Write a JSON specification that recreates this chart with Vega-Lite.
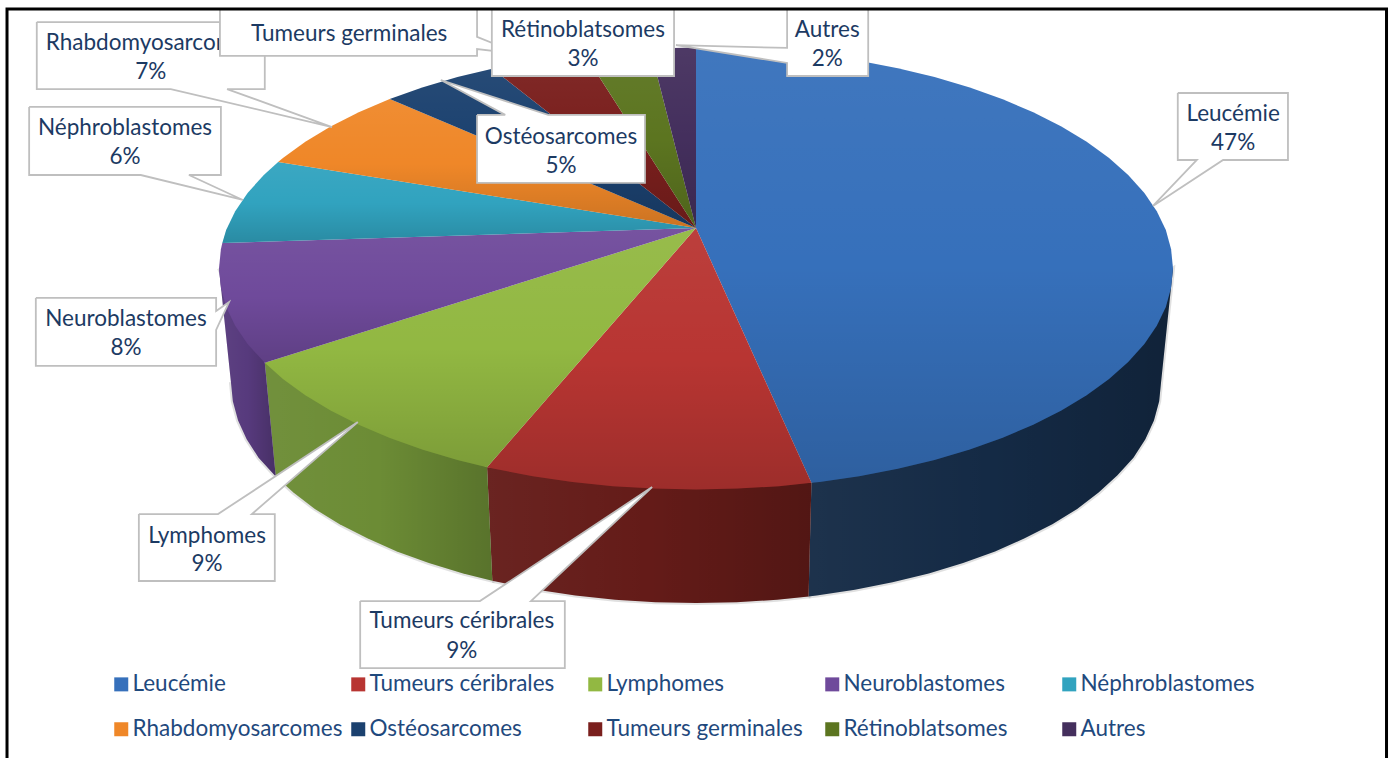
{
"$schema":"https://vega.github.io/schema/vega-lite/v6.json",
"width":1391,"height":758,"padding":0,"autosize":{"type":"fit","contains":"padding"},
"background":"white",
"config":{"view":{"stroke":null}},
"datasets":{
"top":[
{"s":"Leucémie","x":0,"y":100},{"s":"Leucémie","x":8.7,"y":99.6},{"s":"Leucémie","x":17.4,"y":98.5},{"s":"Leucémie","x":25.9,"y":96.6},{"s":"Leucémie","x":34.2,"y":94},{"s":"Leucémie","x":42.3,"y":90.6},{"s":"Leucémie","x":50,"y":86.6},{"s":"Leucémie","x":57.4,"y":81.9},{"s":"Leucémie","x":64.3,"y":76.6},{"s":"Leucémie","x":70.7,"y":70.7},{"s":"Leucémie","x":76.6,"y":64.3},{"s":"Leucémie","x":81.9,"y":57.4},{"s":"Leucémie","x":86.6,"y":50},{"s":"Leucémie","x":90.6,"y":42.3},{"s":"Leucémie","x":94,"y":34.2},{"s":"Leucémie","x":96.6,"y":25.9},{"s":"Leucémie","x":98.5,"y":17.4},{"s":"Leucémie","x":99.6,"y":8.7},{"s":"Leucémie","x":100,"y":0},{"s":"Leucémie","x":99.6,"y":-8.7},{"s":"Leucémie","x":98.5,"y":-17.4},{"s":"Leucémie","x":96.6,"y":-25.9},{"s":"Leucémie","x":94,"y":-34.2},{"s":"Leucémie","x":90.6,"y":-42.3},{"s":"Leucémie","x":86.6,"y":-50},{"s":"Leucémie","x":81.9,"y":-57.4},{"s":"Leucémie","x":76.6,"y":-64.3},{"s":"Leucémie","x":70.7,"y":-70.7},{"s":"Leucémie","x":64.3,"y":-76.6},{"s":"Leucémie","x":57.4,"y":-81.9},{"s":"Leucémie","x":50,"y":-86.6},{"s":"Leucémie","x":42.3,"y":-90.6},{"s":"Leucémie","x":34.2,"y":-94},{"s":"Leucémie","x":25.9,"y":-96.6},{"s":"Leucémie","x":24.2,"y":-97},{"s":"Leucémie","x":0,"y":18.3},
{"s":"Tumeurs céribrales","x":24.2,"y":-97},{"s":"Tumeurs céribrales","x":17.4,"y":-98.5},{"s":"Tumeurs céribrales","x":8.7,"y":-99.6},{"s":"Tumeurs céribrales","x":0,"y":-100},{"s":"Tumeurs céribrales","x":-8.7,"y":-99.6},{"s":"Tumeurs céribrales","x":-17.4,"y":-98.5},{"s":"Tumeurs céribrales","x":-25.9,"y":-96.6},{"s":"Tumeurs céribrales","x":-34.2,"y":-94},{"s":"Tumeurs céribrales","x":-42.3,"y":-90.6},{"s":"Tumeurs céribrales","x":-43.8,"y":-89.9},{"s":"Tumeurs céribrales","x":0,"y":18.3},
{"s":"Lymphomes","x":-43.8,"y":-89.9},{"s":"Lymphomes","x":-50,"y":-86.6},{"s":"Lymphomes","x":-57.4,"y":-81.9},{"s":"Lymphomes","x":-64.3,"y":-76.6},{"s":"Lymphomes","x":-70.7,"y":-70.7},{"s":"Lymphomes","x":-76.6,"y":-64.3},{"s":"Lymphomes","x":-81.9,"y":-57.4},{"s":"Lymphomes","x":-86.6,"y":-50},{"s":"Lymphomes","x":-90.4,"y":-42.7},{"s":"Lymphomes","x":0,"y":18.3},
{"s":"Neuroblastomes","x":-90.4,"y":-42.7},{"s":"Neuroblastomes","x":-94,"y":-34.2},{"s":"Neuroblastomes","x":-96.6,"y":-25.9},{"s":"Neuroblastomes","x":-98.5,"y":-17.4},{"s":"Neuroblastomes","x":-99.6,"y":-8.7},{"s":"Neuroblastomes","x":-100,"y":0},{"s":"Neuroblastomes","x":-99.6,"y":8.7},{"s":"Neuroblastomes","x":-99.3,"y":11.5},{"s":"Neuroblastomes","x":0,"y":18.3},
{"s":"Néphroblastomes","x":-99.3,"y":11.5},{"s":"Néphroblastomes","x":-98.5,"y":17.4},{"s":"Néphroblastomes","x":-96.6,"y":25.9},{"s":"Néphroblastomes","x":-94,"y":34.2},{"s":"Néphroblastomes","x":-90.6,"y":42.3},{"s":"Néphroblastomes","x":-87.6,"y":48.2},{"s":"Néphroblastomes","x":0,"y":18.3},
{"s":"Rhabdomyosarcomes","x":-87.6,"y":48.2},{"s":"Rhabdomyosarcomes","x":-86.6,"y":50},{"s":"Rhabdomyosarcomes","x":-81.9,"y":57.4},{"s":"Rhabdomyosarcomes","x":-76.6,"y":64.3},{"s":"Rhabdomyosarcomes","x":-70.7,"y":70.7},{"s":"Rhabdomyosarcomes","x":-64.2,"y":76.7},{"s":"Rhabdomyosarcomes","x":0,"y":18.3},
{"s":"Ostéosarcomes","x":-64.2,"y":76.7},{"s":"Ostéosarcomes","x":-57.4,"y":81.9},{"s":"Ostéosarcomes","x":-50,"y":86.6},{"s":"Ostéosarcomes","x":-42.7,"y":90.4},{"s":"Ostéosarcomes","x":0,"y":18.3},
{"s":"Tumeurs germinales","x":-42.7,"y":90.4},{"s":"Tumeurs germinales","x":-34.2,"y":94},{"s":"Tumeurs germinales","x":-25.9,"y":96.6},{"s":"Tumeurs germinales","x":-23.4,"y":97.2},{"s":"Tumeurs germinales","x":0,"y":18.3},
{"s":"Rétinoblatsomes","x":-23.4,"y":97.2},{"s":"Rétinoblatsomes","x":-17.4,"y":98.5},{"s":"Rétinoblatsomes","x":-9.6,"y":99.5},{"s":"Rétinoblatsomes","x":0,"y":18.3},
{"s":"Autres","x":-9.6,"y":99.5},{"s":"Autres","x":0,"y":100},{"s":"Autres","x":0,"y":18.3}
],
"side":[
{"s":"Leucémie","x":24.2,"y":-97},{"s":"Leucémie","x":100,"y":0},{"s":"Leucémie","x":97.5,"y":-51.4},{"s":"Leucémie","x":97.1,"y":-60.1},{"s":"Leucémie","x":96,"y":-68.8},{"s":"Leucémie","x":94.2,"y":-77.3},{"s":"Leucémie","x":91.7,"y":-85.6},{"s":"Leucémie","x":88.3,"y":-93.7},{"s":"Leucémie","x":84.4,"y":-101.4},{"s":"Leucémie","x":79.9,"y":-108.8},{"s":"Leucémie","x":74.7,"y":-115.7},{"s":"Leucémie","x":68.9,"y":-122.1},{"s":"Leucémie","x":62.7,"y":-128},{"s":"Leucémie","x":56,"y":-133.3},{"s":"Leucémie","x":48.8,"y":-138},{"s":"Leucémie","x":41.2,"y":-142},{"s":"Leucémie","x":33.3,"y":-145.4},{"s":"Leucémie","x":25.3,"y":-148},{"s":"Leucémie","x":23.6,"y":-148.4},
{"s":"Tumeurs céribrales","x":-43.8,"y":-89.9},{"s":"Tumeurs céribrales","x":24.2,"y":-97},{"s":"Tumeurs céribrales","x":23.6,"y":-148.4},{"s":"Tumeurs céribrales","x":17,"y":-149.9},{"s":"Tumeurs céribrales","x":8.5,"y":-151},{"s":"Tumeurs céribrales","x":0,"y":-151.4},{"s":"Tumeurs céribrales","x":-8.5,"y":-151},{"s":"Tumeurs céribrales","x":-17,"y":-149.9},{"s":"Tumeurs céribrales","x":-25.3,"y":-148},{"s":"Tumeurs céribrales","x":-33.3,"y":-145.4},{"s":"Tumeurs céribrales","x":-41.2,"y":-142},{"s":"Tumeurs céribrales","x":-42.7,"y":-141.3},
{"s":"Lymphomes","x":-90.4,"y":-42.7},{"s":"Lymphomes","x":-43.8,"y":-89.9},{"s":"Lymphomes","x":-42.7,"y":-141.3},{"s":"Lymphomes","x":-48.8,"y":-138},{"s":"Lymphomes","x":-56,"y":-133.3},{"s":"Lymphomes","x":-62.7,"y":-128},{"s":"Lymphomes","x":-68.9,"y":-122.1},{"s":"Lymphomes","x":-74.7,"y":-115.7},{"s":"Lymphomes","x":-79.9,"y":-108.8},{"s":"Lymphomes","x":-84.4,"y":-101.4},{"s":"Lymphomes","x":-88.1,"y":-94.1},
{"s":"Neuroblastomes","x":-100,"y":0},{"s":"Neuroblastomes","x":-90.4,"y":-42.7},{"s":"Neuroblastomes","x":-88.1,"y":-94.1},{"s":"Neuroblastomes","x":-91.7,"y":-85.6},{"s":"Neuroblastomes","x":-94.2,"y":-77.3},{"s":"Neuroblastomes","x":-96,"y":-68.8},{"s":"Neuroblastomes","x":-97.1,"y":-60.1},{"s":"Neuroblastomes","x":-97.5,"y":-51.4}
],
"callouts":[
{"c":"Rhabdomyosarcomes","x":-138.2,"y":111.5},{"c":"Rhabdomyosarcomes","x":-90.4,"y":111.5},{"c":"Rhabdomyosarcomes","x":-90.4,"y":81.2},{"c":"Rhabdomyosarcomes","x":-98.3,"y":81.2},{"c":"Rhabdomyosarcomes","x":-76.3,"y":64},{"c":"Rhabdomyosarcomes","x":-110.1,"y":81.2},{"c":"Rhabdomyosarcomes","x":-138.2,"y":81.2},{"c":"Rhabdomyosarcomes","x":-138.2,"y":111.5},
{"c":"Néphroblastomes","x":-139.8,"y":73.1},{"c":"Néphroblastomes","x":-99.6,"y":73.1},{"c":"Néphroblastomes","x":-99.6,"y":42.3},{"c":"Néphroblastomes","x":-106.3,"y":42.3},{"c":"Néphroblastomes","x":-95,"y":31},{"c":"Néphroblastomes","x":-116.4,"y":42.3},{"c":"Néphroblastomes","x":-139.8,"y":42.3},{"c":"Néphroblastomes","x":-139.8,"y":73.1},
{"c":"Neuroblastomes","x":-138.4,"y":-13.3},{"c":"Neuroblastomes","x":-100.6,"y":-13.3},{"c":"Neuroblastomes","x":-100.6,"y":-19.2},{"c":"Neuroblastomes","x":-97.9,"y":-15.2},{"c":"Neuroblastomes","x":-100.6,"y":-27.8},{"c":"Neuroblastomes","x":-100.6,"y":-44.1},{"c":"Neuroblastomes","x":-138.4,"y":-44.1},{"c":"Neuroblastomes","x":-138.4,"y":-13.3},
{"c":"Lymphomes","x":-116.8,"y":-111.1},{"c":"Lymphomes","x":-100.2,"y":-111.1},{"c":"Lymphomes","x":-70.9,"y":-69.5},{"c":"Lymphomes","x":-93.1,"y":-111.1},{"c":"Lymphomes","x":-88.3,"y":-111.1},{"c":"Lymphomes","x":-88.3,"y":-141.4},{"c":"Lymphomes","x":-116.8,"y":-141.4},{"c":"Lymphomes","x":-116.8,"y":-111.1},
{"c":"Tumeurs céribrales","x":-70.4,"y":-150.5},{"c":"Tumeurs céribrales","x":-45.3,"y":-150.5},{"c":"Tumeurs céribrales","x":-9.2,"y":-98.9},{"c":"Tumeurs céribrales","x":-34.6,"y":-150.5},{"c":"Tumeurs céribrales","x":-27.5,"y":-150.5},{"c":"Tumeurs céribrales","x":-27.5,"y":-180.8},{"c":"Tumeurs céribrales","x":-70.4,"y":-180.8},{"c":"Tumeurs céribrales","x":-70.4,"y":-150.5},
{"c":"Leucémie","x":101,"y":79.4},{"c":"Leucémie","x":124.1,"y":79.4},{"c":"Leucémie","x":124.1,"y":49.1},{"c":"Leucémie","x":110.5,"y":49.1},{"c":"Leucémie","x":95.8,"y":28.3},{"c":"Leucémie","x":105,"y":49.1},{"c":"Leucémie","x":101,"y":49.1},{"c":"Leucémie","x":101,"y":79.4},
{"c":"Ostéosarcomes","x":-45.9,"y":69.5},{"c":"Ostéosarcomes","x":-40,"y":69.5},{"c":"Ostéosarcomes","x":-53.5,"y":85.3},{"c":"Ostéosarcomes","x":-31,"y":69.5},{"c":"Ostéosarcomes","x":-10.7,"y":69.5},{"c":"Ostéosarcomes","x":-10.7,"y":38.7},{"c":"Ostéosarcomes","x":-45.9,"y":38.7},{"c":"Ostéosarcomes","x":-45.9,"y":69.5},
{"c":"Tumeurs germinales","x":-99.8,"y":117.4},{"c":"Tumeurs germinales","x":-45.9,"y":117.4},{"c":"Tumeurs germinales","x":-45.9,"y":104.8},{"c":"Tumeurs germinales","x":-36.9,"y":97},{"c":"Tumeurs germinales","x":-45.9,"y":99.3},{"c":"Tumeurs germinales","x":-45.9,"y":96.2},{"c":"Tumeurs germinales","x":-99.8,"y":96.2},{"c":"Tumeurs germinales","x":-99.8,"y":117.4},
{"c":"Rétinoblatsomes","x":-42.8,"y":117.4},{"c":"Rétinoblatsomes","x":-4.6,"y":117.4},{"c":"Rétinoblatsomes","x":-4.6,"y":87.1},{"c":"Rétinoblatsomes","x":-42.8,"y":87.1},{"c":"Rétinoblatsomes","x":-42.8,"y":117.4},
{"c":"Autres","x":19.1,"y":117.4},{"c":"Autres","x":36.1,"y":117.4},{"c":"Autres","x":36.1,"y":87.1},{"c":"Autres","x":19.1,"y":87.1},{"c":"Autres","x":19.1,"y":93},{"c":"Autres","x":-4.2,"y":101.1},{"c":"Autres","x":19.1,"y":99.8},{"c":"Autres","x":19.1,"y":117.4}
],
"labels":[
{"t":"Rhabdomyosarcomes","x":-114.3,"y":102.5},{"t":"7%","x":-114.3,"y":89.4},
{"t":"Leucémie","x":112.6,"y":70.4},{"t":"47%","x":112.6,"y":57.2},
{"t":"Tumeurs céribrales","x":-49.1,"y":-159},{"t":"9%","x":-49.1,"y":-172.6},
{"t":"Lymphomes","x":-102.5,"y":-120.6},{"t":"9%","x":-102.5,"y":-133.3},
{"t":"Neuroblastomes","x":-119.5,"y":-22.4},{"t":"8%","x":-119.5,"y":-35.5},
{"t":"Néphroblastomes","x":-119.7,"y":64},{"t":"6%","x":-119.7,"y":50.9},
{"t":"Ostéosarcomes","x":-28.3,"y":60},{"t":"5%","x":-28.3,"y":46.8},
{"t":"Tumeurs germinales","x":-72.7,"y":106.6},
{"t":"Rétinoblatsomes","x":-23.7,"y":108.4},{"t":"3%","x":-23.7,"y":95.2},
{"t":"Autres","x":27.5,"y":108.4},{"t":"2%","x":27.5,"y":95.2}
]
},
"encoding":{
"x":{"field":"x","type":"quantitative","axis":null,"scale":{"domain":[-145.91,145.7],"nice":false,"zero":false}},
"y":{"field":"y","type":"quantitative","axis":null,"scale":{"domain":[-221.49,121.49],"nice":false,"zero":false}}
},
"layer":[
{"data":{"name":"side"},
 "mark":{"type":"line","clip":true,"fill":"#888888","stroke":"#777777","strokeWidth":4,"opacity":0.22},
 "encoding":{"order":{"value":null},"detail":{"field":"s"}}},
{"data":{"name":"side"},
 "mark":{"type":"line","clip":true,"strokeWidth":0},
 "encoding":{"order":{"value":null},"fill":{"field":"s","type":"nominal","legend":null,"scale":{"domain":["Leucémie","Tumeurs céribrales","Lymphomes","Neuroblastomes"],"range":["#142a45","#641b18","#6c8c35","#573a7d"]}}}},
{"data":{"name":"side"},
 "mark":{"type":"line","clip":true,"strokeWidth":0,"fill":{"gradient":"linear","x1":0,"y1":0,"x2":1,"y2":0,"stops":[{"offset":0,"color":"rgba(255,255,255,0.04)"},{"offset":0.5,"color":"rgba(255,255,255,0)"},{"offset":0.5,"color":"rgba(0,0,0,0)"},{"offset":1,"color":"rgba(0,0,0,0.18)"}]}},
 "encoding":{"order":{"value":null},"detail":{"field":"s"}}},
{"data":{"name":"top"},
 "mark":{"type":"line","clip":true,"strokeWidth":0},
 "encoding":{"order":{"value":null},"fill":{"field":"s","type":"nominal","scale":{"domain":["Leucémie","Rhabdomyosarcomes","Tumeurs céribrales","Ostéosarcomes","Lymphomes","Tumeurs germinales","Neuroblastomes","Rétinoblatsomes","Néphroblastomes","Autres"],"range":["#3670bb","#ef8728","#b83532","#1b416f","#92b842","#7a1f1d","#6f4a9b","#5c7520","#31a3bf","#442f5d"]},
 "legend":{"title":null,"orient":"none","legendX":110,"legendY":673,"columns":5,"gridAlign":"all","columnPadding":4,"rowPadding":22,"symbolType":"square","symbolSize":196,"symbolStrokeWidth":0,"symbolOpacity":1,"labelFont":"Lato","labelFontSize":22.5,"labelColor":"#1f497d","labelLimit":300,"labelOffset":0}
 }}},
{"data":{"name":"top"},
 "mark":{"type":"line","clip":true,"strokeWidth":0,"fill":{"gradient":"linear","x1":0,"y1":0,"x2":0,"y2":1,"stops":[{"offset":0,"color":"rgba(255,255,255,0.05)"},{"offset":0.5,"color":"rgba(255,255,255,0)"},{"offset":0.5,"color":"rgba(0,0,0,0)"},{"offset":1,"color":"rgba(0,0,0,0.15)"}]}},
 "encoding":{"order":{"value":null},"detail":{"field":"s"}}},
{"data":{"name":"callouts"},"transform":[{"filter":"datum.c==='Rhabdomyosarcomes'"}],
 "mark":{"type":"line","clip":true,"fill":"#ffffff","stroke":"#bfbfbf","strokeWidth":1.8,"strokeJoin":"miter"},
 "encoding":{"order":{"value":null},"detail":{"field":"c"}}},
{"data":{"name":"labels"},"transform":[{"filter":"datum.t==='Rhabdomyosarcomes'||datum.t==='7%'"}],
 "mark":{"type":"text","font":"Lato","fontSize":22.5,"color":"#1c3a63","align":"center","baseline":"middle","dy":1},
 "encoding":{"text":{"field":"t"}}},
{"data":{"name":"callouts"},"transform":[{"filter":"datum.c!=='Rhabdomyosarcomes'"}],
 "mark":{"type":"line","clip":true,"fill":"#ffffff","stroke":"#bfbfbf","strokeWidth":1.8,"strokeJoin":"miter"},
 "encoding":{"order":{"value":null},"detail":{"field":"c"}}},
{"data":{"name":"labels"},"transform":[{"filter":"datum.t!=='Rhabdomyosarcomes'&&datum.t!=='7%'"}],
 "mark":{"type":"text","font":"Lato","fontSize":22.5,"color":"#1c3a63","align":"center","baseline":"middle","dy":1},
 "encoding":{"text":{"field":"t"}}},
{"data":{"values":[{"x":-144.44,"x2":144.76,"y":117.4,"y2":-230}]},
 "mark":{"type":"rect","clip":true,"fill":null,"stroke":"#000000","strokeWidth":3},
 "encoding":{"x2":{"field":"x2"},"y2":{"field":"y2"}}}
],
"resolve":{"scale":{"fill":"independent"}}
}
